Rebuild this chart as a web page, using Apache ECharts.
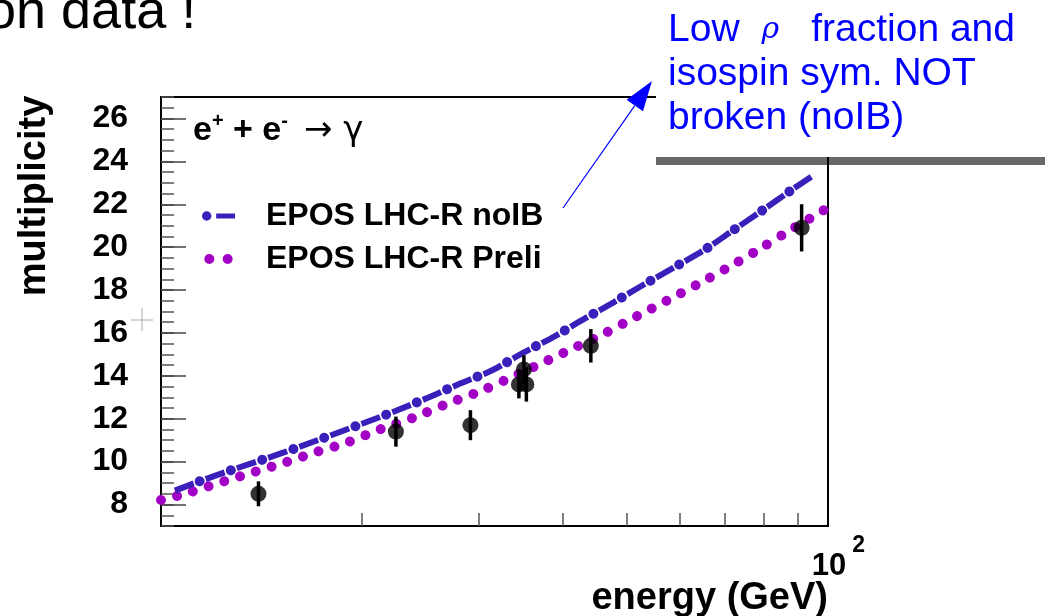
<!DOCTYPE html>
<html><head><meta charset="utf-8">
<script src="https://cdn.jsdelivr.net/npm/echarts@6/dist/echarts.min.js"></script>
<style>html,body{margin:0;padding:0;background:#fff;overflow:hidden}#c{width:1045px;height:616px}</style>
</head><body><div id="c"></div>
<script>
// ---------- data ----------
const blueE = [10.49, 11.41, 12.76, 14.32, 16.06, 20.15, 22.51, 25.17, 28.08, 31.43, 34.93, 38.74, 42.97, 47.78, 53.04, 58.97, 65.40, 72.11, 79.69, 87.93, 95.06];
const blueV = [8.65, 9.08, 9.61, 10.13, 10.67, 11.80, 12.37, 12.99, 13.64, 14.27, 15.08, 15.81, 16.63, 17.44, 18.27, 19.08, 19.89, 20.79, 21.71, 22.64, 23.35];
const purpleE = [10.0, 10.78, 12.08, 13.53, 15.19, 17.02, 19.05, 21.35, 23.95, 26.75, 29.99, 33.45, 37.22, 41.51, 46.32, 51.54, 57.42, 63.76, 70.72, 78.45, 87.20, 96.72, 100];
const purpleV = [8.21, 8.47, 8.96, 9.44, 9.92, 10.43, 10.90, 11.52, 12.06, 12.68, 13.26, 13.92, 14.59, 15.29, 15.99, 16.76, 17.52, 18.27, 19.04, 19.86, 20.74, 21.57, 21.84];
const dataE = [14.0, 22.5, 29.1, 34.4, 35.3, 35.0, 44.1, 91.3];
const dataV = [8.5, 11.4, 11.7, 13.6, 13.6, 14.3, 15.4, 20.9];
const dataErr = [0.58, 0.7, 0.7, 0.65, 0.8, 0.66, 0.78, 1.1];
const yLabelValues = [8, 10, 12, 14, 16, 18, 20, 22, 24, 26];
const xTickEnergies = [20, 30, 40, 50, 60, 70, 80, 90];
const xLabelEnergies = [100];
const seriesNames = ['EPOS LHC-R noIB', 'EPOS LHC-R Preli'];

// ---------- style ----------
const FONT = '"Liberation Sans", Arial, sans-serif';
const BLUE = '#3a1fba';
const PURPLE = '#a300c6';
const zip = (a, b) => a.map((v, i) => [v, b[i]]);

const blueIcon = 'path://M0.5,5A4.5,4.5 0 1,1 9.5,5A4.5,4.5 0 1,1 0.5,5ZM14,2.5L32,2.5L32,7.5L14,7.5Z';
const purpleIcon = 'path://M0.5,5A4.5,4.5 0 1,1 9.5,5A4.5,4.5 0 1,1 0.5,5ZM17,5A4.5,4.5 0 1,1 26,5A4.5,4.5 0 1,1 17,5Z';

// arrow geometry
const tail = [563, 208], tip = [652, 81];
const dx = tip[0] - tail[0], dy = tip[1] - tail[1], L = Math.hypot(dx, dy);
const ux = dx / L, uy = dy / L, nx = -uy, ny = ux;
const hl = 30, hw = 10;
const bx = tip[0] - hl * ux, by = tip[1] - hl * uy;

const chart = echarts.init(document.getElementById('c'), null, { renderer: 'canvas' });
chart.setOption({
  animation: false,
  backgroundColor: '#fff',
  textStyle: { fontFamily: FONT },
  grid: { left: 161, top: 97, right: 217, bottom: 90, show: true, borderColor: '#000', borderWidth: 2, backgroundColor: 'transparent' },
  legend: {
    left: 197, top: 193, orient: 'vertical', itemWidth: 33, itemHeight: 10, itemGap: 7,
    selectedMode: false, symbolKeepAspect: true,
    itemStyle: { borderWidth: 0 },
    textStyle: { fontFamily: FONT, fontSize: 32, fontWeight: 'bold', color: '#000', lineHeight: 36, padding: [0, 0, 0, 26] },
    data: [{ name: seriesNames[0], icon: blueIcon, itemStyle: { color: BLUE } },
           { name: seriesNames[1], icon: purpleIcon, itemStyle: { color: PURPLE } }]
  },
  xAxis: [
    { type: 'log', logBase: 10, min: 10, max: 100, gridIndex: 0,
      axisLine: { show: false }, axisTick: { show: false }, axisLabel: { show: false }, splitLine: { show: false } },
    { type: 'value', min: 1, max: 2, gridIndex: 0, position: 'bottom',
      axisLine: { show: false }, splitLine: { show: false },
      axisTick: { show: true, inside: true, length: 13, customValues: xTickEnergies.map(Math.log10), lineStyle: { color: '#555', width: 1.5 } },
      axisLabel: { show: true, margin: 8, customValues: xLabelEnergies.map(Math.log10), padding: [0, 0, 0, 21],
        formatter: v => '{b|10}{s|' + Math.round(v) + '}',
        rich: {
          b: { fontFamily: FONT, fontSize: 31, fontWeight: 'bold', color: '#000', lineHeight: 64 },
          s: { fontFamily: FONT, fontSize: 23, fontWeight: 'bold', color: '#000', lineHeight: 23, verticalAlign: 'top', padding: [0, 0, 0, 6] }
        } } }
  ],
  yAxis: [
    { type: 'value', min: 7, max: 27, interval: 0.5, position: 'left', gridIndex: 0,
      axisLine: { show: false }, splitLine: { show: false },
      axisTick: { show: true, inside: true, length: 13, lineStyle: { color: '#555', width: 1.5 } },
      axisLabel: { show: true, margin: 33, customValues: yLabelValues, fontFamily: FONT, fontSize: 32, fontWeight: 'bold', color: '#000' } },
    { type: 'value', min: 7, max: 27, position: 'left', gridIndex: 0,
      axisLine: { show: false }, splitLine: { show: false }, axisLabel: { show: false },
      axisTick: { show: true, inside: true, length: 25, customValues: yLabelValues, lineStyle: { color: '#444', width: 1.5 } } }
  ],
  series: [
    { name: seriesNames[1], type: 'line', xAxisIndex: 0, yAxisIndex: 0, data: zip(purpleE, purpleV), smooth: 0.3,
      showSymbol: false, itemStyle: { color: PURPLE },
      lineStyle: { color: PURPLE, width: 10, type: [0.01, 16.49], cap: 'round' }, z: 3 },
    { name: seriesNames[0], type: 'line', xAxisIndex: 0, yAxisIndex: 0, data: zip(blueE, blueV), smooth: 0.3,
      showSymbol: false, itemStyle: { color: BLUE },
      lineStyle: { color: BLUE, width: 6, type: [20, 13], cap: 'butt' }, z: 4 },
    { name: seriesNames[0], type: 'line', xAxisIndex: 0, yAxisIndex: 0, data: zip(blueE, blueV), smooth: 0.3,
      showSymbol: false, itemStyle: { color: BLUE },
      lineStyle: { color: BLUE, width: 10, type: [0.01, 32.99], dashOffset: 6.5, cap: 'round' }, z: 4 },
    { name: 'errors', type: 'custom', xAxisIndex: 0, yAxisIndex: 0,
      data: dataE.map((e, i) => [e, dataV[i], dataErr[i]]), encode: { x: 0, y: 1 }, z: 5,
      renderItem: (params, api) => {
        const lo = api.coord([api.value(0), api.value(1) - api.value(2)]);
        const hi = api.coord([api.value(0), api.value(1) + api.value(2)]);
        return { type: 'line', shape: { x1: lo[0], y1: lo[1], x2: hi[0], y2: hi[1] }, style: { stroke: '#000', lineWidth: 3.5 } };
      } },
    { name: 'data', type: 'scatter', xAxisIndex: 0, yAxisIndex: 0, data: zip(dataE, dataV),
      symbol: 'circle', symbolSize: 16, itemStyle: { color: '#000' }, z: 6 }
  ],
  graphic: { elements: [
    { type: 'text', x: -14, y: 13, z: 100, style: { text: 'on data !', font: '54px ' + FONT, fill: '#000', align: 'left', verticalAlign: 'middle' } },
    { type: 'rect', z: 100, shape: { x: 656, y: 0, width: 389, height: 157 }, style: { fill: '#fff' } },
    { type: 'rect', z: 101, shape: { x: 656, y: 157, width: 389, height: 8 }, style: { fill: '#686868' } },
    { type: 'line', z: 102, shape: { x1: 828, y1: 157, x2: 828, y2: 166 }, style: { stroke: '#000', lineWidth: 2 } },
    { type: 'text', x: 668, y: 8, z: 103, style: {
        text: '{a|Low}{r|ρ}{a|fraction and}\n{a|isospin sym. NOT}\n{a|broken (noIB)}',
        verticalAlign: 'top', align: 'left',
        rich: {
          a: { fontFamily: FONT, fontSize: 39, fill: '#0000ff', lineHeight: 44 },
          r: { fontFamily: 'DejaVu Serif, serif', fontStyle: 'italic', fontSize: 30, fill: '#0000ff', lineHeight: 44, padding: [0, 32, 0, 22] }
        } } },
    { type: 'line', z: 103, shape: { x1: tail[0], y1: tail[1], x2: bx, y2: by }, style: { stroke: '#0000ff', lineWidth: 1.2 } },
    { type: 'polygon', z: 103, shape: { points: [tip, [bx + hw * nx, by + hw * ny], [bx - hw * nx, by - hw * ny]] }, style: { fill: '#0000ff' } },
    { type: 'text', x: 193, y: 111, z: 20, style: {
        text: '{n|e}{p|+}{n| + e}{p|-}{g|}{m|→ γ}', align: 'left', verticalAlign: 'top',
        rich: {
          n: { fontFamily: FONT, fontSize: 34, fontWeight: 'bold', fill: '#000', lineHeight: 40 },
          p: { fontFamily: FONT, fontSize: 20, fontWeight: 'bold', fill: '#000', lineHeight: 20, verticalAlign: 'top' },
          g: { width: 16, lineHeight: 40 },
          m: { fontFamily: 'DejaVu Sans, sans-serif', fontSize: 34, fill: '#000', lineHeight: 40 }
        } } },
    { type: 'text', x: 35, y: 196, rotation: Math.PI / 2, z: 20, style: { text: 'multiplicity', font: 'bold 38px ' + FONT, fill: '#000', align: 'center', verticalAlign: 'middle' } },
    { type: 'text', x: 828, y: 599, z: 20, style: { text: 'energy (GeV)', font: 'bold 38px ' + FONT, fill: '#000', align: 'right', verticalAlign: 'middle' } },
    { type: 'line', z: 20, shape: { x1: 131, y1: 320, x2: 153, y2: 320 }, style: { stroke: '#aaa', lineWidth: 1 } },
    { type: 'line', z: 20, shape: { x1: 142, y1: 308, x2: 142, y2: 331 }, style: { stroke: '#aaa', lineWidth: 1 } }
  ] }
});
</script>
</body></html>
